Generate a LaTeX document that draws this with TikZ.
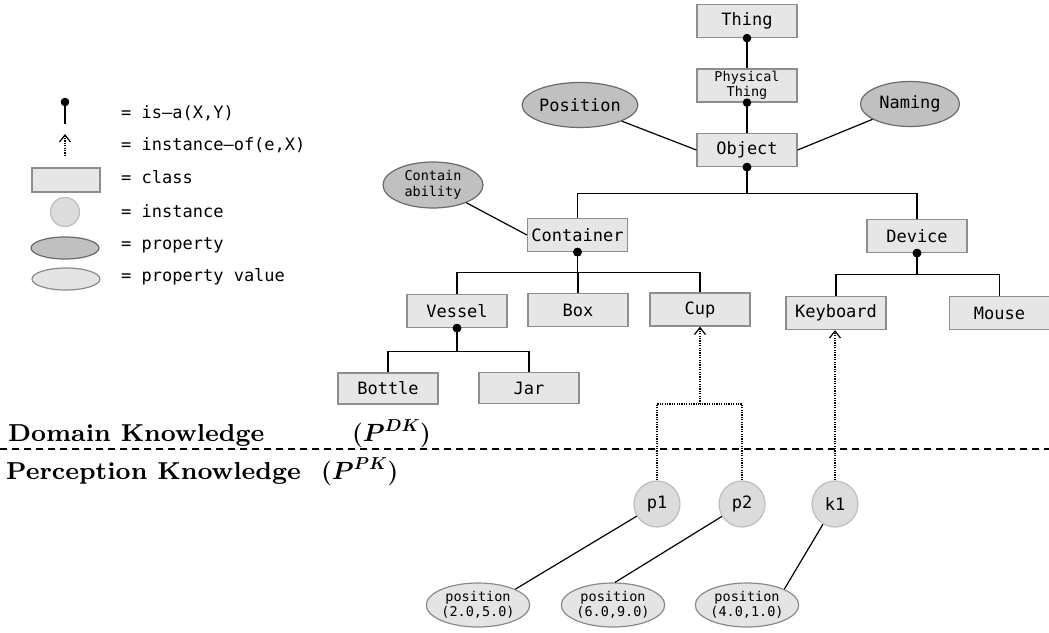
\documentclass[tikz,border=0pt]{standalone}
\usepackage{fontspec}
\usepackage{bm}
\newfontfamily\codefont{DejaVu Sans Mono}
\newfontfamily\headfont{lmroman8-bold}[Extension=.otf]
\usetikzlibrary{shapes.geometric,arrows.meta}

\definecolor{clsfill}{HTML}{E6E6E6}
\definecolor{clsline}{HTML}{8E8E8E}
\definecolor{insfill}{HTML}{DCDCDC}
\definecolor{insline}{HTML}{BDBDBD}
\definecolor{propfill}{HTML}{C0C0C0}
\definecolor{propline}{HTML}{6A6A6A}
\definecolor{valfill}{HTML}{E4E4E4}
\definecolor{valline}{HTML}{8A8A8A}

\newcommand{\kbsym}[1]{\textbf{(}$\bm{P}^{\bm{#1}}$\textbf{)}}

\begin{document}
\begin{tikzpicture}[x=1pt,y=-1pt,
  bigtxt/.style={font={\codefont\fontsize{17}{18}\selectfont}},
  smalltxt/.style={font={\codefont\fontsize{13.5}{15.5}\selectfont}, align=center},
  cls/.style={draw=clsline, fill=clsfill, line width=1.2pt, minimum width=100pt,
    minimum height=33pt, inner sep=0pt, bigtxt},
  inst/.style={circle, draw=insline, fill=insfill, line width=1.2pt,
    minimum size=46pt, inner sep=0pt, bigtxt},
  prop/.style={ellipse, draw=propline, fill=propfill, line width=1.2pt,
    minimum width=99pt, minimum height=45pt, inner sep=0pt, bigtxt},
  pval/.style={ellipse, draw=valline, fill=valfill, line width=1.2pt,
    minimum width=100pt, minimum height=44pt, inner sep=0pt, smalltxt},
  isa/.style={line width=1.2pt, {Circle[length=8.5pt,width=8.5pt]}-, shorten <=-4.25pt},
  link/.style={line width=1.2pt},
  instof/.style={line width=1.2pt, dash pattern=on 1.2pt off 1.2pt},
  instarrow/.style={instof, -{Straight Barb[length=7pt,width=11pt,line width=1.2pt]}},
  legtxt/.style={anchor=west, inner sep=0pt, bigtxt},
  heading/.style={anchor=base west, inner sep=0pt,
    font={\headfont\fontsize{24.5}{28}\selectfont}},
  headmath/.style={anchor=base west, inner sep=0pt,
    font={\fontsize{24.5}{28}\selectfont\bfseries}},
]
\useasboundingbox (0,0) rectangle (1049,632);

% ---------- legend ----------
\coordinate (lisaA) at (65,102);
\coordinate (lisaB) at (65,124);
\draw[isa] (lisaA) -- (lisaB);
\coordinate (linsA) at (65,156);
\coordinate (linsB) at (65,134);
\draw[instarrow] (linsA) -- (linsB);
\node[cls, minimum width=68pt, minimum height=24pt] (lcls) at (66,180) {};
\node[inst, minimum size=29pt] (lins) at (65,212) {};
\node[prop, minimum width=68pt, minimum height=22pt] (lprop) at (65,248) {};
\node[pval, minimum width=68pt, minimum height=22pt] (lval) at (66,279) {};
\node[legtxt] (tisa)  at (121,113) {= is–a(X,Y)};
\node[legtxt] (tinst) at (121,145) {= instance–of(e,X)};
\node[legtxt] (tcls)  at (121,177) {= class};
\node[legtxt] (tind)  at (121,211) {= instance};
\node[legtxt] (tprop) at (121,245) {= property};
\node[legtxt] (tval)  at (121,277) {= property value};

% ---------- class hierarchy ----------
\node[cls] (thing) at (747,21) {Thing};
\node[cls, smalltxt] (phys) at (747,85.5) {Physical\\Thing};
\node[cls] (obj) at (747,150) {Object};
\node[prop] (posn) at (580,105) {Position};
\node[prop] (nam) at (910,104) {Naming};
\node[prop, smalltxt, minimum width=100pt, minimum height=46pt] (cab) at (433,185) {Contain\\ability};

\node[cls] (cont) at (577.5,235) {Container};
\node[cls] (dev) at (917,236) {Device};
\node[cls] (ves) at (457,311) {Vessel};
\node[cls] (box) at (578,310) {Box};
\node[cls] (cup) at (700,309.5) {Cup};
\node[cls] (kb) at (836,313) {Keyboard};
\node[cls] (mou) at (999.5,313) {Mouse};
\node[cls, minimum height=31pt] (bot) at (388,388.5) {Bottle};
\node[cls, minimum height=31pt] (jar) at (529,388) {Jar};

% is-a links
\draw[isa] (thing.south) -- (phys.north);
\draw[isa] (phys.south) -- (obj.north);
\draw[isa] (obj.south) -- ++(0,26) -| (cont.north);
\draw[isa] (obj.south) -- ++(0,26) -| (dev.north);
\draw[isa] (cont.south) -- ++(0,20) -| (ves.north);
\draw[isa] (cont.south) -- ++(0,20) -| (box.north);
\draw[isa] (cont.south) -- ++(0,20) -| (cup.north);
\draw[isa] (dev.south) -- ++(0,21) -| (kb.north);
\draw[isa] (dev.south) -- ++(0,21) -| (mou.north);
\draw[isa] (ves.south) -- ++(0,23) -| (bot.north);
\draw[isa] (ves.south) -- ++(0,23) -| (jar.north);

% properties
\draw[link] (posn) -- (obj.west);
\draw[link] (obj.east) -- (nam);
\draw[link] (cab) -- (cont.west);

% ---------- knowledge split ----------
\coordinate (splitL) at (0,449);
\coordinate (splitR) at (1049,449);
\draw[line width=1.2pt, dash pattern=on 7pt off 5pt] (splitL) -- (splitR);
\node[heading] (dk) at (8,441) {Domain Knowledge};
\node[headmath] (dkm) at (352,441) {\kbsym{DK}};
\node[heading] (pk) at (6,479) {Perception Knowledge};
\node[headmath] (pkm) at (321,479) {\kbsym{PK}};

% ---------- instances ----------
\node[inst] (p1) at (657,504) {p1};
\node[inst] (p2) at (742,504) {p2};
\node[inst] (k1) at (835,504) {k1};
\node[pval] (v1) at (478,605) {position\\(2.0,5.0)};
\node[pval] (v2) at (613,605) {position\\(6.0,9.0)};
\node[pval] (v3) at (747,605) {position\\(4.0,1.0)};

\coordinate (cupj) at (700,404);
\draw[instof] (p1.north) |- (cupj);
\draw[instof] (p2.north) |- (cupj);
\draw[instarrow] (cupj) -- (cup.south);
\draw[instarrow] (k1.north) -- (k1.north |- kb.south);

\draw[link] (p1) -- (v1.23);
\draw[link] (p2) -- (v2.85);
\draw[link] (k1) -- (v3.23);
\end{tikzpicture}
\end{document}
